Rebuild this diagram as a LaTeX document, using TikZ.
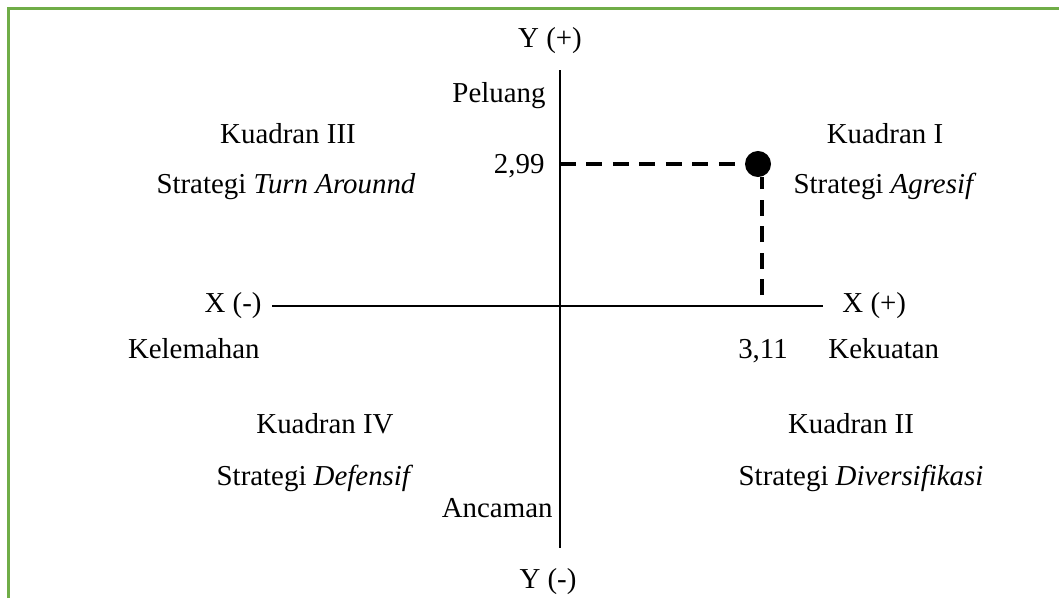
\documentclass[tikz,border=0pt]{standalone}
\usepackage{fontspec}
\setmainfont{Liberation Serif}
\definecolor{framegreen}{RGB}{112,173,71}
\begin{document}
\begin{tikzpicture}[x=0.0146cm, y=-0.0146cm]
    \useasboundingbox (0,0) rectangle (1059,598);
    \tikzstyle{lbl} = [inner sep = 0pt, anchor = base, font = \fontsize{12}{14}\selectfont]
    \tikzstyle{axis} = [line width = 0.45pt]
    \tikzstyle{guide} = [line width = 1.5pt, dash pattern = on 6.5pt off 4.5pt]
    \tikzstyle{pnode} = [circle, fill = black, inner sep = 0pt, minimum size = 0.38cm]

    % frame
    \draw[framegreen, line width = 1.3pt] (8.5,598) -- (8.5,8.5) -- (1059,8.5);

    % axis end points
    \coordinate (ytop) at (560,70);
    \coordinate (ybot) at (560,548);
    \coordinate (xleft) at (272,306);
    \coordinate (xright) at (823,306);
    \coordinate (y299) at (560,164);
    \coordinate (x311) at (762,295);

    \node[lbl] (yp) at (550,47) {Y (+)};
    \node[lbl] (ym) at (548,588) {Y (-)};
    \node[lbl, anchor = base east] (xm) at (262,312) {X (-)};
    \node[lbl, anchor = base west] (xp) at (842,312) {X (+)};

    \node[lbl, anchor = base east] (peluang) at (546,102) {Peluang};
    \node[lbl, anchor = base east] (ancaman) at (553,517) {Ancaman};
    \node[lbl, anchor = base east] (kelemahan) at (260,358) {Kelemahan};
    \node[lbl, anchor = base west] (kekuatan) at (828,358) {Kekuatan};
    \node[lbl, anchor = base east] (v299) at (545,173) {2,99};
    \node[lbl] (v311) at (763,358) {3,11};

    \node[lbl] (k3) at (288,143) {Kuadran III};
    \node[lbl] (s3) at (286,193) {Strategi \textit{Turn Arounnd}};
    \node[lbl] (k1) at (885,143) {Kuadran I};
    \node[lbl] (s1) at (885,193) {Strategi \textit{Agresif}};
    \node[lbl] (k4) at (325,433) {Kuadran IV};
    \node[lbl] (s4) at (315,485) {Strategi \textit{Defensif}};
    \node[lbl] (k2) at (851,433) {Kuadran II};
    \node[lbl] (s2) at (861,485) {Strategi \textit{Diversifikasi}};

    \draw[axis] (ytop) -- (ybot);
    \draw[axis] (xleft) -- (xright);

    \node[pnode] (dot) at (758,164) {};
    \draw[guide] (y299) -- (dot.west);
    \draw[guide] (x311) -- (x311 |- dot.south);
\end{tikzpicture}
\end{document}
